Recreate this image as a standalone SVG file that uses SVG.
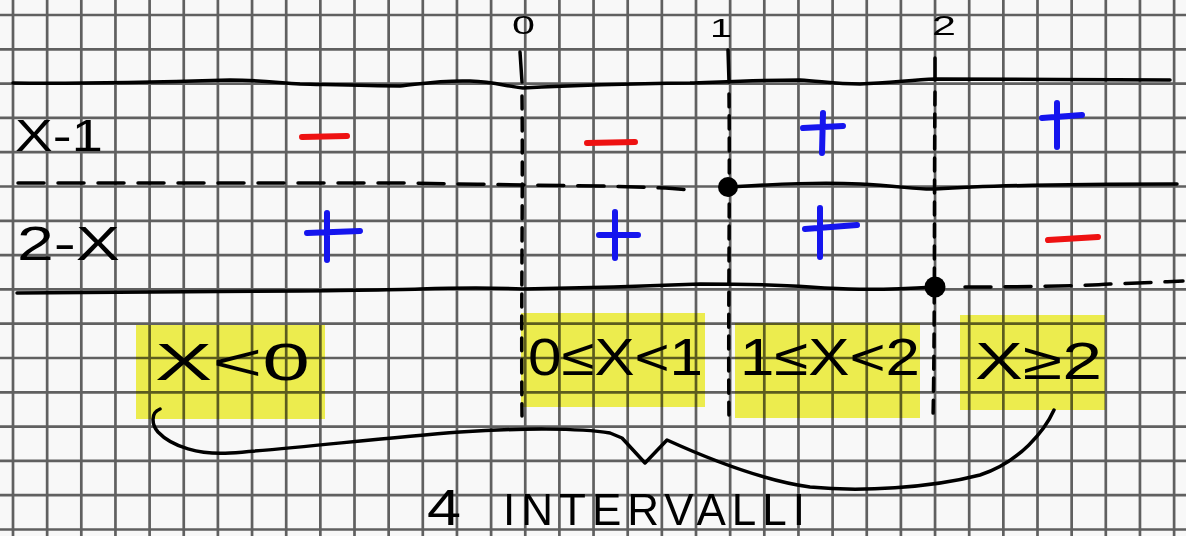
<svg xmlns="http://www.w3.org/2000/svg" width="1186" height="536" viewBox="0 0 1186 536">
<defs>
<style>
.grid{stroke:#606060;stroke-width:2.7;fill:none}
.ink{stroke:#000;stroke-width:3.5;fill:none;stroke-linecap:round;stroke-linejoin:round}
.dash{stroke:#000;stroke-width:3.5;fill:none;stroke-linecap:round;stroke-dasharray:26 14}
.vdash{stroke:#000;stroke-width:3.5;fill:none;stroke-linecap:round;stroke-dasharray:13 9}
.red{stroke:#ee1111;stroke-width:6;fill:none;stroke-linecap:round}
.blue{stroke:#1515ee;stroke-width:6;fill:none;stroke-linecap:round}
.hl{fill:#f3f350;mix-blend-mode:multiply}
.t{font-family:"Liberation Sans",Arial,sans-serif;fill:#000}
</style>
</defs>
<rect width="1186" height="536" fill="#f8f8f8"/>
<g id="grid">
<path class="grid" d="M13,0V536M47.15,0V536M81.3,0V536M115.45,0V536M149.6,0V536M183.75,0V536M217.9,0V536M252.05,0V536M286.2,0V536M320.35,0V536M354.5,0V536M388.65,0V536M422.8,0V536M456.95,0V536M491.1,0V536M525.25,0V536M559.4,0V536M593.55,0V536M627.7,0V536M661.85,0V536M696,0V536M730.15,0V536M764.3,0V536M798.45,0V536M832.6,0V536M866.75,0V536M900.9,0V536M935.05,0V536M969.2,0V536M1003.35,0V536M1037.5,0V536M1071.65,0V536M1105.8,0V536M1139.95,0V536M1174.1,0V536"/>
<path class="grid" d="M0,15H1186M0,49.3H1186M0,83.6H1186M0,117.9H1186M0,152.2H1186M0,186.5H1186M0,220.8H1186M0,255.1H1186M0,289.4H1186M0,323.7H1186M0,358H1186M0,392.3H1186M0,426.6H1186M0,460.9H1186M0,495.2H1186M0,529.5H1186"/>
</g>
<g id="highlights">
<rect class="hl" x="136" y="325" width="189" height="94"/>
<rect class="hl" x="521" y="313" width="184" height="94"/>
<rect class="hl" x="735" y="323" width="185" height="95"/>
<rect class="hl" x="960" y="315" width="145" height="95"/>
</g>
<g id="rows">
<path class="ink" d="M13,83 C80,84 160,82 230,80 C260,80 280,83 300,84 C340,85 370,86 400,86 C420,84 440,80 470,81 C495,82 505,86 523,88 C560,86 600,84 690,83 C720,82 760,80 800,80 C820,81 835,84 860,84 C890,83 910,80 935,79 C1000,79 1100,80 1170,80"/>
<path class="dash" d="M18,183 L400,183 C470,184 520,185 600,186 C640,187 670,188 690,190"/>
<path class="ink" d="M728,187 C780,184 820,182 860,184 C900,186 920,190 935,189 C980,186 1060,184 1177,184"/>
<path class="ink" d="M17,293 C80,292 200,292 300,291 C360,290 390,290 420,289 C450,288 480,287 523,289 C580,288 650,286 700,284 C750,284 780,285 810,287 C840,289 870,291 935,287"/>
<path class="dash" d="M965,287 C1020,287 1080,286 1110,284 C1140,283 1160,282 1183,281"/>
<circle cx="728" cy="187" r="10" fill="#000"/>
<circle cx="935" cy="287" r="10.5" fill="#000"/>
</g>
<g id="axis">
<path class="ink" d="M520,52 L522,82"/>
<path class="ink" d="M728,50 L729,82"/>
<path class="ink" d="M935,58 L935,80"/>
<path class="vdash" d="M522,96 C523,200 521,300 522,416"/>
<path class="vdash" d="M729,94 C730,200 728,320 729,422"/>
<path class="vdash" d="M935,92 C934,200 935,320 933,419"/>
<text class="t" x="512" y="34" font-size="26" textLength="23" lengthAdjust="spacingAndGlyphs">0</text>
<text class="t" x="710" y="37" font-size="26" textLength="22" lengthAdjust="spacingAndGlyphs">1</text>
<text class="t" x="932" y="35" font-size="27" textLength="24" lengthAdjust="spacingAndGlyphs">2</text>
</g>
<g id="labels">
<text class="t" x="15" y="151" font-size="44" textLength="88" lengthAdjust="spacingAndGlyphs">X-1</text>
<text class="t" x="17" y="260" font-size="48" textLength="103" lengthAdjust="spacingAndGlyphs">2-X</text>
</g>
<g id="signs">
<path class="red" d="M302,137 L347,136"/>
<path class="red" d="M587,143 L635,142"/>
<path class="red" d="M1048,240 L1098,237"/>
<path class="blue" d="M823,113 L822,153 M803,128 L843,126"/>
<path class="blue" d="M1057,103 L1057,147 M1042,118 L1082,115"/>
<path class="blue" d="M327,213 L327,260 M307,233 L360,231"/>
<path class="blue" d="M615,212 L615,258 M599,235 L638,235"/>
<path class="blue" d="M820,208 L820,257 M805,229 L857,225"/>
</g>
<g id="intervals">
<text class="t" x="155" y="380" font-size="52" textLength="155" lengthAdjust="spacingAndGlyphs">X&lt;0</text>
<text class="t" x="528" y="375" font-size="52" textLength="175" lengthAdjust="spacingAndGlyphs">0≤X&lt;1</text>
<text class="t" x="740" y="375" font-size="52" textLength="180" lengthAdjust="spacingAndGlyphs">1≤X&lt;2</text>
<text class="t" x="975" y="379" font-size="52" textLength="127" lengthAdjust="spacingAndGlyphs">X≥2</text>
</g>
<g id="brace">
<path class="ink" d="M160,409 C150,413 152,425 158,432 C172,447 200,455 230,453 C300,448 380,438 460,432 C520,428 580,428 610,433 L622,438 L645,463 L667,440 C700,455 760,480 810,487 C860,492 930,488 980,475 C1020,462 1045,430 1054,410"/>
</g>
<g id="caption">
<text class="t" x="427" y="525" font-size="50"><tspan textLength="34" lengthAdjust="spacingAndGlyphs">4</tspan></text>
<text class="t" x="503" y="525" font-size="44" textLength="302" lengthAdjust="spacing">INTERVALLI</text>
</g>
</svg>
